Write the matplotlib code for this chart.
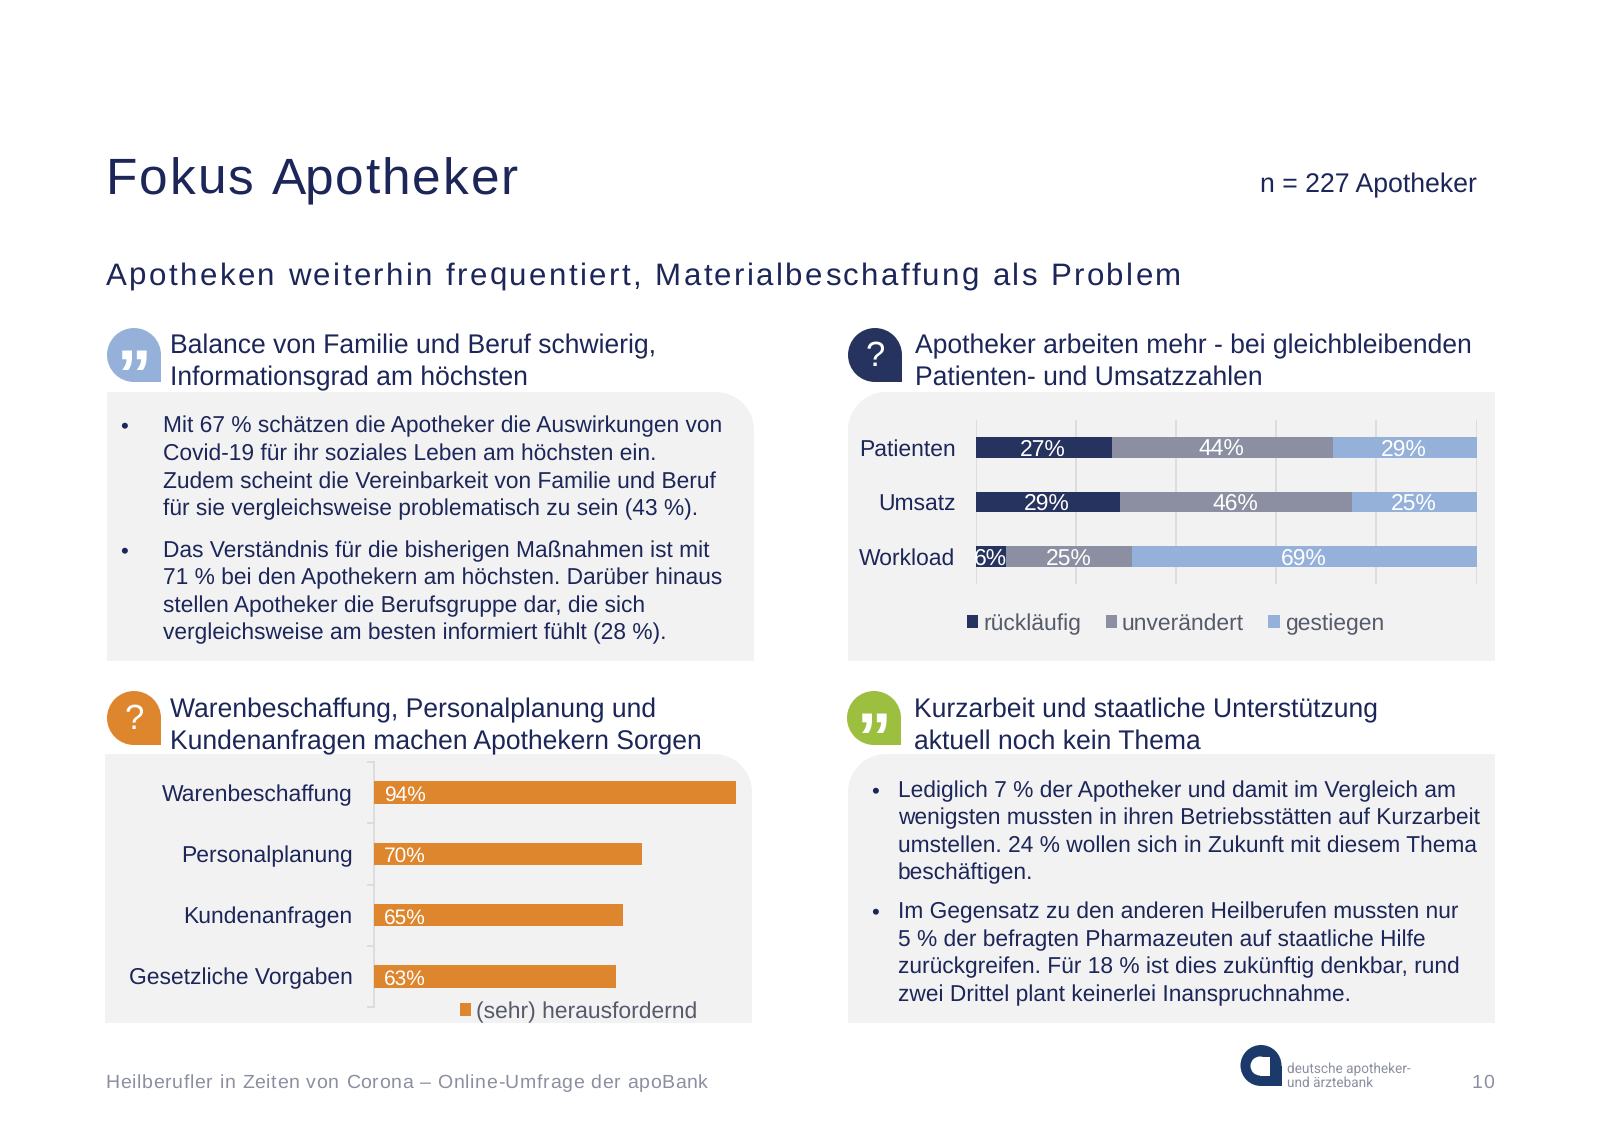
import matplotlib
matplotlib.use("Agg")
import matplotlib.pyplot as plt
from matplotlib.patches import Circle, PathPatch, Rectangle
from matplotlib.path import Path
from matplotlib.text import Text

plt.rcParams['font.family'] = ['Liberation Sans', 'DejaVu Sans']
plt.rcParams['text.hinting'] = 'no_hinting'

# Farben
NAVY = "#1c2659"
DUNKEL = "#27335f"
GRAU = "#8c8fa1"
HELLBLAU = "#95b1da"
ORANGE = "#dd862d"
GRUEN = "#9cbf3f"
PANEL = "#f2f2f2"
GITTER = "#d9d9d9"
LEGENDE = "#565a6a"
LOGO = "#1b3a6b"

kategorien_oben = ["Patienten", "Umsatz", "Workload"]
ruecklaeufig = [27.3, 28.9, 6.1]
unveraendert = [44.0, 46.3, 25.1]
gestiegen = [28.7, 24.8, 68.8]

kategorien_unten = ["Warenbeschaffung", "Personalplanung", "Kundenanfragen", "Gesetzliche Vorgaben"]
herausfordernd = [94, 69.6, 64.7, 63]

text_links = [
    ["Mit 67 % schätzen die Apotheker die Auswirkungen von",
     "Covid-19 für ihr soziales Leben am höchsten ein.",
     "Zudem scheint die Vereinbarkeit von Familie und Beruf",
     "für sie vergleichsweise problematisch zu sein (43 %)."],
    ["Das Verständnis für die bisherigen Maßnahmen ist mit",
     "71 % bei den Apothekern am höchsten. Darüber hinaus",
     "stellen Apotheker die Berufsgruppe dar, die sich",
     "vergleichsweise am besten informiert fühlt (28 %)."],
]
text_rechts = [
    ["Lediglich 7 % der Apotheker und damit im Vergleich am",
     "wenigsten mussten in ihren Betriebsstätten auf Kurzarbeit",
     "umstellen. 24 % wollen sich in Zukunft mit diesem Thema",
     "beschäftigen."],
    ["Im Gegensatz zu den anderen Heilberufen mussten nur",
     "5 % der befragten Pharmazeuten auf staatliche Hilfe",
     "zurückgreifen. Für 18 % ist dies zukünftig denkbar, rund",
     "zwei Drittel plant keinerlei Inanspruchnahme."],
]

B, H = 1600, 1131


class SpacedText(Text):
    """Text mit Laufweite in Pixeln (matplotlib kann das nicht von sich aus)."""

    def __init__(self, *args, spacing=0, **kwargs):
        super().__init__(*args, **kwargs)
        self.spacing = spacing

    def draw(self, renderer):
        ganz = self.get_text()
        x0 = self.get_position()[0]
        fp = self.get_fontproperties()
        rand = renderer.get_text_width_height_descent("|", fp, False)[0]
        for i, c in enumerate(ganz):
            w = renderer.get_text_width_height_descent(ganz[:i] + "|", fp, False)[0] - rand
            self.set_text(c)
            self.set_x(x0 + w + i * self.spacing)
            super().draw(renderer)
        self.set_text(ganz)
        self.set_x(x0)


def pixel_axes(x0, y0, x1, y1):
    return fig.add_axes([x0 / B, 1 - y1 / H, (x1 - x0) / B, (y1 - y0) / H])


fig = plt.figure(figsize=(16, 11.31), dpi=100, facecolor="white")
deko = fig.add_axes([0, 0, 1, 1])
deko.set_xlim(0, B)
deko.set_ylim(H, 0)
deko.axis("off")


def panel(x0, y0, x1, y1, ecke, r=38):
    k = r * 0.45
    if ecke == "rechts":
        verts = [(x0, y1), (x0, y0), (x1 - r, y0), (x1 - k, y0), (x1, y0 + k), (x1, y0 + r), (x1, y1), (x0, y1)]
    else:
        verts = [(x1, y1), (x1, y0), (x0 + r, y0), (x0 + k, y0), (x0, y0 + k), (x0, y0 + r), (x0, y1), (x1, y1)]
    codes = [Path.MOVETO, Path.LINETO, Path.LINETO, Path.CURVE4, Path.CURVE4, Path.CURVE4, Path.LINETO, Path.CLOSEPOLY]
    deko.add_patch(PathPatch(Path(verts, codes), fc=PANEL, ec="none"))


def icon(x, y, farbe, zeichen):
    r = 27
    deko.add_patch(Circle((x + r, y + r), r, fc=farbe, ec="none"))
    deko.add_patch(Rectangle((x + r, y + r), r, r, fc=farbe, ec="none"))
    if zeichen == "?":
        deko.text(x + r, y + r + 2, "?", color="white", fontsize=25, ha="center", va="center")
    else:
        deko.text(x + r, y + r + 25, "”", color="white", fontsize=50, fontweight="bold", ha="center", va="center")


def ueberschrift(x, y, zeilen):
    for i, z in enumerate(zeilen):
        deko.text(x, y + i * 31.5, z, color=NAVY, fontsize=19.12, va="baseline")


def absatz(x_punkt, x, y, zeilen):
    deko.text(x_punkt, y, "•", color=NAVY, fontsize=16, va="baseline", ha="center")
    for i, z in enumerate(zeilen):
        deko.text(x, y + i * 27.55, z, color=NAVY, fontsize=16.38, va="baseline")


# Flächen
panel(107, 392, 754, 661, "rechts")
panel(848, 392, 1495, 661, "links")
panel(105, 754, 752, 1023, "rechts")
panel(848, 754, 1495, 1023, "links")

# Kopf
deko.add_artist(SpacedText(106, 194, "Fokus Apotheker", spacing=1.88, color=NAVY, fontsize=37, va="baseline"))
deko.text(1477, 192, "n = 227 Apotheker", color=NAVY, fontsize=19.2, ha="right", va="baseline")
deko.add_artist(SpacedText(106, 285, "Apotheken weiterhin frequentiert, Materialbeschaffung als Problem",
                           spacing=2.4, color=NAVY, fontsize=22.5, va="baseline"))

# Icons und Überschriften
icon(107, 328, HELLBLAU, "quote")
icon(848, 328, DUNKEL, "?")
icon(107, 691, ORANGE, "?")
icon(847, 691, GRUEN, "quote")
ueberschrift(170.5, 353.5, ["Balance von Familie und Beruf schwierig,", "Informationsgrad am höchsten"])
ueberschrift(915, 353.5, ["Apotheker arbeiten mehr - bei gleichbleibenden", "Patienten- und Umsatzzahlen"])
ueberschrift(170.5, 717.5, ["Warenbeschaffung, Personalplanung und", "Kundenanfragen machen Apothekern Sorgen"])
ueberschrift(914, 717.5, ["Kurzarbeit und staatliche Unterstützung", "aktuell noch kein Thema"])

# Fließtexte
absatz(124, 163, 432.6, text_links[0])
absatz(124, 163, 557, text_links[1])
absatz(875.5, 898, 797, text_rechts[0])
absatz(875.5, 898, 918.4, text_rechts[1])

# Gestapelte Balken oben rechts
ax1 = pixel_axes(975.5, 420, 1476.6, 584)
ax1.patch.set_alpha(0)
links = [0, 0, 0]
for werte, farbe, name in [(ruecklaeufig, DUNKEL, "rückläufig"),
                           (unveraendert, GRAU, "unverändert"),
                           (gestiegen, HELLBLAU, "gestiegen")]:
    balken = ax1.barh(kategorien_oben, werte, left=links, height=0.38, color=farbe, label=name, zorder=3)
    beschr = ax1.bar_label(balken, labels=[f"{w:.0f}%" for w in werte], label_type="center", color="white",
                           fontsize=16.5, zorder=4)
    for t in beschr:
        t.set_position((-0.5, -1.5))
    links = [a + b for a, b in zip(links, werte)]
ax1.set_xlim(0, 100)
ax1.set_ylim(2.5, -0.5)
ax1.set_xticks(range(0, 101, 20))
ax1.tick_params(axis="x", length=0, labelbottom=False)
ax1.tick_params(axis="y", length=0, pad=14.5, labelsize=16.5, labelcolor=NAVY)
ax1.grid(axis="x", color=GITTER, lw=1.2, zorder=0)
for s in ax1.spines.values():
    s.set_visible(False)
fig.legend(*ax1.get_legend_handles_labels(), loc="center", bbox_to_anchor=(1175.5 / B, 1 - 624 / H), ncol=3,
           frameon=False, fontsize=16.5, labelcolor=LEGENDE, handlelength=0.49, handleheight=0.49,
           handletextpad=0.22, columnspacing=1.06)

# Balken unten links
ax2 = pixel_axes(373.5, 762, 759, 1007)
ax2.patch.set_alpha(0)
balken = ax2.barh(kategorien_unten, herausfordernd, height=0.37, color=ORANGE, label="(sehr) herausfordernd", zorder=3)
ax2.bar_label(balken, labels=[f"{w:.0f}%" for w in herausfordernd], label_type="edge", color="white", fontsize=15,
              zorder=4)
for t, b in zip(ax2.texts, balken):
    t.set_position((0, -2))
    t.xy = (2.6, b.get_y() + b.get_height() / 2)
    t.set_ha("left")
    t.set_va("center")
ax2.set_xlim(0, 100)
ax2.set_ylim(3.5, -0.5)
ax2.set_xticks([])
ax2.set_yticks([-0.5, 0.5, 1.5, 2.5, 3.5], minor=True)
ax2.tick_params(axis="y", which="major", length=0, pad=15, labelsize=16.5, labelcolor=NAVY)
ax2.tick_params(axis="y", which="minor", length=5, color=GITTER, width=1.2)
for n, s in ax2.spines.items():
    s.set_visible(n == "left")
ax2.spines["left"].set_color(GITTER)
ax2.spines["left"].set_linewidth(1.2)
fig.legend(*ax2.get_legend_handles_labels(), loc="center", bbox_to_anchor=(578.5 / B, 1 - 1012 / H), frameon=False,
           fontsize=16.5, labelcolor=LEGENDE, handlelength=0.49, handleheight=0.49, handletextpad=0.22)

# Fußzeile
deko.add_artist(SpacedText(105.5, 1088, "Heilberufler in Zeiten von Corona – Online-Umfrage der apoBank",
                           spacing=0.67, color=GRAU, fontsize=14, va="baseline"))
deko.add_artist(SpacedText(1472, 1088, "10", spacing=0.3, color=GRAU, fontsize=14, va="baseline"))

# Logo
deko.add_patch(Circle((1261, 1065.5), 20.5, fc=LOGO, ec="none"))
deko.add_patch(Rectangle((1261, 1065.5), 20.5, 20.5, fc=LOGO, ec="none"))
deko.add_patch(Circle((1260, 1066), 9.5, fc="white", ec="none"))
deko.add_patch(Rectangle((1260, 1056.5), 10, 19, fc="white", ec="none"))
deko.text(1287, 1073.5, "deutsche apotheker-", color=GRAU, fontsize=9.85, family=["Roboto", "DejaVu Sans"], va="baseline")
deko.text(1287, 1087, "und ärztebank", color=GRAU, fontsize=9.85, family=["Roboto", "DejaVu Sans"], va="baseline")

fig.savefig("out.png", dpi=100)
